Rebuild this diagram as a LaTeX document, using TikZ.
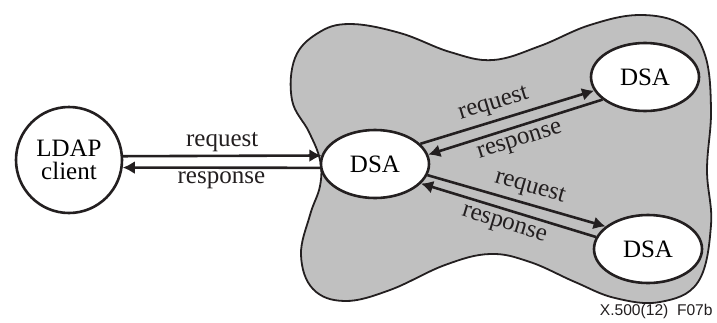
\documentclass[tikz,border=0pt]{standalone}
\usepackage{fontspec}
\setmainfont{Liberation Serif}
\newfontfamily\figfont{Liberation Sans}
\usetikzlibrary{arrows.meta,shapes.geometric}

\definecolor{cloudgray}{RGB}{192,192,192}
\definecolor{ink}{RGB}{35,31,32}

\tikzset{
  agent/.style={draw=ink, fill=white, line width=1.3pt, ellipse, inner sep=0pt,
    minimum width=54pt, minimum height=34pt, font=\fontsize{12.5}{13}\selectfont},
  client/.style={draw=ink, fill=white, line width=1.3pt, circle, inner sep=0pt,
    minimum size=53pt, align=center, font=\fontsize{12.5}{11.5}\selectfont},
  msg/.style={draw=ink, line width=1.3pt, -{Latex[length=6pt,width=6.5pt]}},
  tag/.style={text=ink, inner sep=1.5pt, font=\fontsize{12.5}{13}\selectfont}
}

\begin{document}
\begin{tikzpicture}[x=0.5pt,y=-0.5pt]
	\useasboundingbox (0,0) rectangle (717,322);

	% shaded directory region
	\filldraw [draw=ink, fill=cloudgray, line width=0.9pt]
	  plot [smooth cycle, tension=0.65] coordinates {
	    (320,160) (309,132) (292,100) (295,58) (318,33) (350,24) (400,33)
	    (450,52) (493,60) (540,46) (590,25) (640,15) (683,25) (705,55)
	    (711,110) (707,170) (711,225) (698,282) (660,302) (615,298) (575,282)
	    (530,262) (490,254) (445,265) (390,290) (345,301) (313,289)
	    (301,255) (310,215) (320,186)};

	% nodes
	\node [client] (ldap) at (69,160) {LDAP\\client};
	\node [agent] (dsa) at (375,164) {DSA};
	\node [agent] (dsaA) at (645,77) {DSA};
	\node [agent] (dsaB) at (648,249) {DSA};

	% lines
	\draw [msg] (ldap.4) -- node [tag, above] {request} (dsa.171);
	\draw [msg] (dsa.184) -- node [tag, below] {response} (ldap.-8);

	\draw [msg] (dsa.24) -- node [tag, above=1pt, sloped, pos=0.45] {request} (dsaA.195);
	\draw [msg] (dsaA.208) -- node [tag, below=1.5pt, sloped] {response} (dsa.10);

	\draw [msg] (dsa.-12) -- node [tag, above=1pt, sloped, pos=0.55] {request} (dsaB.152);
	\draw [msg] (dsaB.167) -- node [tag, below=1.5pt, sloped] {response} (dsa.-23);

	\node [anchor=east, text=ink, inner sep=0pt, font=\figfont\fontsize{7.8}{9}\selectfont]
	  (figno) at (713,311) {X.500(12)\ \ F07b};
\end{tikzpicture}
\end{document}
